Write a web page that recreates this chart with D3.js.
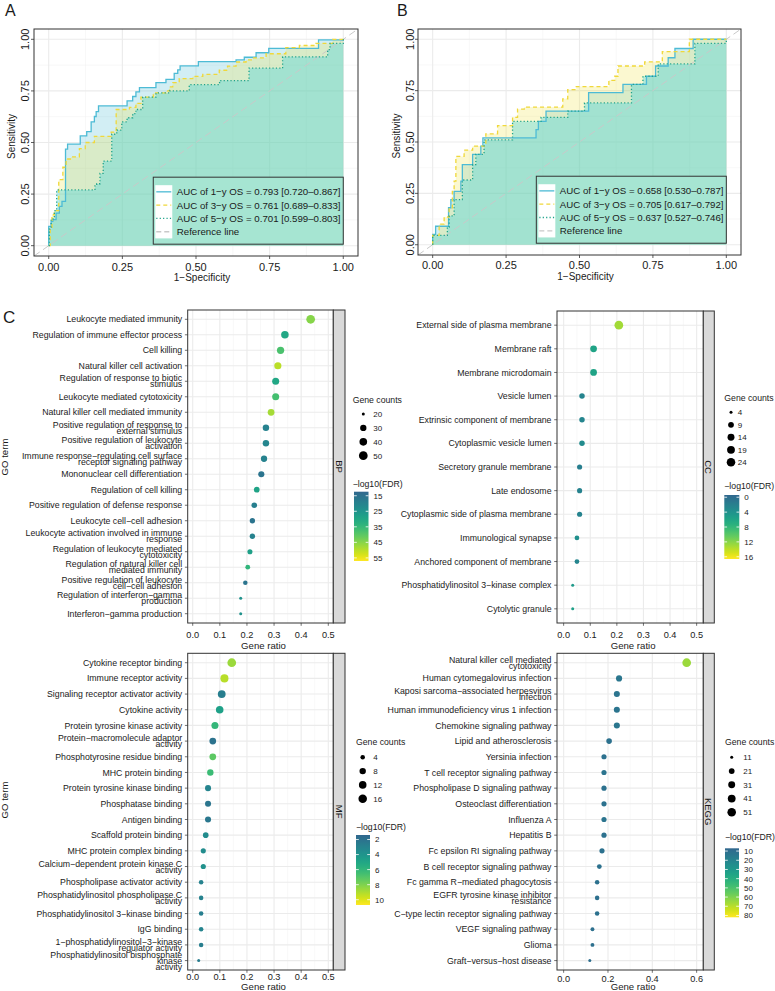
<!DOCTYPE html>
<html><head><meta charset="utf-8">
<script src="https://cdn.jsdelivr.net/npm/d3@7"></script>
<style>
body{margin:0;background:#fff}
svg{display:block}
text{font-family:"Liberation Sans",Arial,Helvetica,sans-serif;fill:#1a1a1a}
</style>
</head><body>
<svg id="c" width="775" height="991"></svg>
<script>
// ---------------- ROC data (FPR, TPR) ----------------
const rocTicks = [0, 0.25, 0.5, 0.75, 1];
const rocMinor = [0.125, 0.375, 0.625, 0.875];
const rocA_1y = [[0,0],[0,0.094],[0.008,0.118],[0.014,0.126],[0.025,0.158],[0.036,0.19],[0.045,0.215],[0.057,0.468],[0.064,0.492],[0.107,0.532],[0.129,0.553],[0.144,0.6],[0.155,0.626],[0.161,0.65],[0.169,0.677],[0.266,0.702],[0.285,0.723],[0.296,0.745],[0.308,0.766],[0.364,0.79],[0.398,0.806],[0.426,0.835],[0.438,0.852],[0.446,0.871],[0.508,0.892],[0.636,0.9],[0.664,0.913],[0.704,0.935],[0.747,0.956],[0.916,0.997],[1,1]];
const rocA_3y = [[0,0],[0.005,0.08],[0.011,0.15],[0.019,0.17],[0.034,0.32],[0.048,0.38],[0.059,0.42],[0.076,0.43],[0.104,0.47],[0.124,0.50],[0.155,0.53],[0.212,0.55],[0.229,0.66],[0.274,0.67],[0.296,0.69],[0.313,0.72],[0.355,0.74],[0.398,0.75],[0.41,0.77],[0.421,0.79],[0.443,0.81],[0.489,0.82],[0.523,0.83],[0.579,0.85],[0.607,0.87],[0.636,0.89],[0.67,0.90],[0.692,0.91],[0.738,0.93],[0.805,0.96],[0.851,0.97],[0.907,0.98],[0.964,1.0],[1,1]];
const rocA_5y = [[0,0],[0.002,0.08],[0.008,0.13],[0.019,0.17],[0.027,0.27],[0.157,0.29],[0.163,0.30],[0.174,0.35],[0.185,0.41],[0.214,0.54],[0.231,0.56],[0.248,0.60],[0.266,0.62],[0.285,0.64],[0.296,0.66],[0.319,0.72],[0.364,0.74],[0.41,0.75],[0.477,0.78],[0.58,0.80],[0.68,0.86],[0.794,0.915],[0.947,0.95],[0.955,0.98],[1,1]];
const rocB_1y = [[0,0],[0,0.05],[0.01,0.09],[0.054,0.18],[0.062,0.22],[0.073,0.26],[0.096,0.31],[0.101,0.39],[0.136,0.44],[0.164,0.48],[0.171,0.52],[0.352,0.56],[0.36,0.60],[0.386,0.65],[0.531,0.74],[0.648,0.78],[0.728,0.82],[0.759,0.87],[0.802,0.91],[0.825,0.955],[0.887,1.0],[1,1]];
const rocB_3y = [[0,0],[0,0.046],[0.022,0.10],[0.039,0.135],[0.056,0.18],[0.067,0.26],[0.073,0.31],[0.079,0.43],[0.107,0.46],[0.136,0.48],[0.181,0.54],[0.221,0.58],[0.272,0.62],[0.289,0.66],[0.312,0.67],[0.443,0.71],[0.46,0.755],[0.489,0.77],[0.6,0.80],[0.62,0.82],[0.631,0.87],[0.722,0.89],[0.782,0.94],[0.874,1.0],[1,1]];
const rocB_5y = [[0,0],[0,0.046],[0.05,0.086],[0.056,0.14],[0.073,0.22],[0.101,0.315],[0.136,0.39],[0.147,0.44],[0.175,0.51],[0.272,0.60],[0.369,0.62],[0.46,0.65],[0.517,0.69],[0.677,0.78],[0.716,0.82],[0.768,0.88],[0.893,0.98],[1,1]];
const aucA_labels = ["AUC of 1\u2212y OS = 0.793 [0.720\u20130.867]","AUC of 3\u2212y OS = 0.761 [0.689\u20130.833]","AUC of 5\u2212y OS = 0.701 [0.599\u20130.803]","Reference line"];
const aucB_labels = ["AUC of 1\u2212y OS = 0.658 [0.530\u20130.787]","AUC of 3\u2212y OS = 0.705 [0.617\u20130.792]","AUC of 5\u2212y OS = 0.637 [0.527\u20130.746]","Reference line"];

// ---------------- Enrichment data ----------------
const bpTerms = ["Leukocyte mediated immunity","Regulation of immune effector process","Cell killing","Natural killer cell activation","Regulation of response to biotic\nstimulus","Leukocyte mediated cytotoxicity","Natural killer cell mediated immunity","Positive regulation of response to\nexternal stimulus","Positive regulation of leukocyte\nactivation","Immune response\u2212regulating cell surface\nreceptor signaling pathway","Mononuclear cell differentiation","Regulation of cell killing","Positive regulation of defense response","Leukocyte cell\u2212cell adhesion","Leukocyte activation involved in immune\nresponse","Regulation of leukocyte mediated\ncytotoxicity","Regulation of natural killer cell\nmediated immunity","Positive regulation of leukocyte\ncell\u2212cell adhesion","Regulation of interferon\u2212gamma\nproduction","Interferon\u2212gamma production"];
const bpRatio = [0.435,0.340,0.324,0.314,0.306,0.306,0.289,0.270,0.270,0.263,0.253,0.236,0.227,0.220,0.220,0.211,0.203,0.194,0.177,0.177];
const bpCount = [50,39,37,36,35,35,33,31,31,30,29,27,26,25,25,24,23,22,20,20];
const bpFDR = [45,30,38,50,30,37,48,20,21,20,16,29,19,16,20,28,34,16,24,24];

const ccTerms = ["External side of plasma membrane","Membrane raft","Membrane microdomain","Vesicle lumen","Extrinsic component of membrane","Cytoplasmic vesicle lumen","Secretory granule membrane","Late endosome","Cytoplasmic side of plasma membrane","Immunological synapse","Anchored component of membrane","Phosphatidylinositol 3\u2212kinase complex","Cytolytic granule"];
const ccRatio = [0.2075,0.1125,0.1125,0.069,0.069,0.069,0.06,0.06,0.06,0.05,0.05,0.034,0.034];
const ccCount = [25,13,13,8,8,8,7,7,7,6,6,4,4];
const ccFDR = [13,5.8,5.8,2.5,2.6,3.2,1.8,2.2,2.4,3.7,2.6,4.8,5.4];

const mfTerms = ["Cytokine receptor binding","Immune receptor activity","Signaling receptor activator activity","Cytokine activity","Protein tyrosine kinase activity","Protein\u2212macromolecule adaptor\nactivity","Phosphotyrosine residue binding","MHC protein binding","Protein tyrosine kinase binding","Phosphatase binding","Antigen binding","Scaffold protein binding","MHC protein complex binding","Calcium\u2212dependent protein kinase C\nactivity","Phospholipase activator activity","Phosphatidylinositol phospholipase C\nactivity","Phosphatidylinositol 3\u2212kinase binding","IgG binding","1\u2212phosphatidylinositol\u22123\u2212kinase\nregulator activity","Phosphatidylinositol bisphosphate\nkinase\nactivity"];
const mfRatio = [0.144,0.117,0.107,0.0995,0.082,0.074,0.074,0.065,0.0565,0.0565,0.0565,0.048,0.039,0.039,0.031,0.031,0.031,0.031,0.031,0.022];
const mfCount = [17,14,13,12,10,9,9,8,7,7,7,6,5,5,4,4,4,4,4,3];
const mfFDR = [8.6,9.2,2.7,4.7,6.0,2.1,7.2,6.3,3.1,2.2,2.3,3.5,3.5,3.8,3.0,3.0,2.7,3.1,2.7,2.6];

const keggTerms = ["Natural killer cell mediated\ncytotoxicity","Human cytomegalovirus infection","Kaposi sarcoma\u2212associated herpesvirus\ninfection","Human immunodeficiency virus 1 infection","Chemokine signaling pathway","Lipid and atherosclerosis","Yersinia infection","T cell receptor signaling pathway","Phospholipase D signaling pathway","Osteoclast differentiation","Influenza A","Hepatitis B","Fc epsilon RI signaling pathway","B cell receptor signaling pathway","Fc gamma R\u2212mediated phagocytosis","EGFR tyrosine kinase inhibitor\nresistance","C\u2212type lectin receptor signaling pathway","VEGF signaling pathway","Glioma","Graft\u2212versus\u2212host disease"];
const keggRatio = [0.555,0.250,0.240,0.240,0.240,0.205,0.182,0.182,0.182,0.182,0.182,0.182,0.173,0.161,0.151,0.151,0.151,0.130,0.130,0.118];
const keggCount = [53,24,23,23,23,20,17,17,17,17,17,17,17,15,14,14,14,12,12,11];
const keggFDR = [65,14,13,13,14,12,12,13,12,12,13,12,12,12,12,11,12,11,11,10];

const goTicks = [0,0.1,0.2,0.3,0.4,0.5];
const goMinor = [0.05,0.15,0.25,0.35,0.45];
const keggTicks = [0,0.2,0.4,0.6];
const keggMinor = [0.1,0.3,0.5];
const bpSizeBreaks = [20,30,40,50], bpColBreaks = [15,25,35,45,55];
const ccSizeBreaks = [4,9,14,19,24], ccColBreaks = [0,4,8,12,16];
const mfSizeBreaks = [4,8,12,16], mfColBreaks = [2,4,6,8,10];
const keggSizeBreaks = [11,21,31,41,51], keggColBreaks = [10,20,30,40,50,60,70,80];

// ---------------- drawing ----------------
const svg = d3.select("#c");
const defs = svg.append("defs");
let uid = 0;
const DARK = "#333333", GRID = "#EBEBEB", GRIDMIN = "#F4F4F4";

function drawROC(L, curves, labels) {
  const x = d3.scaleLinear().domain([-0.05, 1.05]).range([L.l, L.r]);
  const y = d3.scaleLinear().domain([-0.05, 1.05]).range([L.b, L.t]);
  const g = svg.append("g");
  const cid = "clip" + (uid++);
  defs.append("clipPath").attr("id", cid).append("rect")
    .attr("x", L.l).attr("y", L.t).attr("width", L.r - L.l).attr("height", L.b - L.t);
  g.append("rect").attr("x", L.l).attr("y", L.t).attr("width", L.r - L.l).attr("height", L.b - L.t).attr("fill", "#fff");
  g.selectAll(".mx").data(rocMinor).join("line").attr("x1", d => x(d)).attr("x2", d => x(d)).attr("y1", L.t).attr("y2", L.b).attr("stroke", GRIDMIN).attr("stroke-width", 0.6);
  g.selectAll(".my").data(rocMinor).join("line").attr("y1", d => y(d)).attr("y2", d => y(d)).attr("x1", L.l).attr("x2", L.r).attr("stroke", GRIDMIN).attr("stroke-width", 0.6);
  g.selectAll(".gx").data(rocTicks).join("line").attr("x1", d => x(d)).attr("x2", d => x(d)).attr("y1", L.t).attr("y2", L.b).attr("stroke", GRID).attr("stroke-width", 1.1);
  g.selectAll(".gy").data(rocTicks).join("line").attr("y1", d => y(d)).attr("y2", d => y(d)).attr("x1", L.l).attr("x2", L.r).attr("stroke", GRID).attr("stroke-width", 1.1);

  const pg = g.append("g").attr("clip-path", `url(#${cid})`);
  const fills = ["#4DBBD5", "#F0E442", "#40D2DE"], alphas = [0.25, 0.25, 0.36];
  const strokes = ["#4DBBD5", "#F0D83A", "#1FA38A"], dashes = [null, "4,3", "1.2,2.2"];
  const area = d3.area().x(d => x(d[0])).y0(y(0)).y1(d => y(d[1])).curve(d3.curveStepAfter);
  const line = d3.line().x(d => x(d[0])).y(d => y(d[1])).curve(d3.curveStepAfter);
  curves.forEach((c, i) => pg.append("path").attr("d", area(c)).attr("fill", fills[i]).attr("fill-opacity", alphas[i]));
  pg.append("line").attr("x1", x(-0.05)).attr("y1", y(-0.05)).attr("x2", x(1.05)).attr("y2", y(1.05))
    .attr("stroke", "#C9C9C9").attr("stroke-width", 1).attr("stroke-dasharray", "7,4");
  curves.forEach((c, i) => pg.append("path").attr("d", line(c)).attr("fill", "none").attr("stroke", strokes[i])
    .attr("stroke-width", 1.3).attr("stroke-dasharray", dashes[i]));
  g.append("rect").attr("x", L.l).attr("y", L.t).attr("width", L.r - L.l).attr("height", L.b - L.t).attr("fill", "none").attr("stroke", DARK).attr("stroke-width", 1);

  // axes
  g.selectAll(".tx").data(rocTicks).join("line").attr("x1", d => x(d)).attr("x2", d => x(d)).attr("y1", L.b).attr("y2", L.b + 3).attr("stroke", DARK).attr("stroke-width", 0.8);
  g.selectAll(".ty").data(rocTicks).join("line").attr("y1", d => y(d)).attr("y2", d => y(d)).attr("x1", L.l - 3).attr("x2", L.l).attr("stroke", DARK).attr("stroke-width", 0.8);
  const f = d3.format(".2f");
  g.selectAll(".lx").data(rocTicks).join("text").attr("x", d => x(d)).attr("y", L.tickY).attr("text-anchor", "middle").attr("font-size", 11).text(f);
  g.selectAll(".ly").data(rocTicks).join("text").attr("transform", d => `translate(${L.ytickX},${y(d)}) rotate(-90)`)
    .attr("dy", "0.35em").attr("text-anchor", "middle").attr("font-size", 11).text(f);
  g.append("text").attr("x", (L.l + L.r) / 2 + 6).attr("y", L.titleY).attr("text-anchor", "middle").attr("font-size", 10).text("1\u2212Specificity");
  g.append("text").attr("transform", `translate(${L.ytitleX},${(L.t + L.b) / 2 - 6}) rotate(-90)`).attr("dy", "0.35em")
    .attr("text-anchor", "middle").attr("font-size", 10).text("Sensitivity");

  // legend
  const bw = 190, bh = 67;
  const bx = x(1) - bw, by = y(0) - 1.5 - bh;
  const lg = g.append("g");
  lg.append("rect").attr("x", bx).attr("y", by).attr("width", bw).attr("height", bh).attr("fill", "#A6E5D2").attr("stroke", DARK).attr("stroke-width", 1);
  const kh = 13.3, ky0 = by + 8;
  lg.append("rect").attr("x", bx + 2).attr("y", ky0).attr("width", 17).attr("height", kh * 4).attr("fill", "#fff");
  const kStroke = strokes.concat(["#C9C9C9"]), kDash = dashes.concat(["5,3"]);
  labels.forEach((t, i) => {
    const cy = ky0 + kh * i + kh / 2;
    lg.append("line").attr("x1", bx + 3).attr("x2", bx + 18).attr("y1", cy).attr("y2", cy)
      .attr("stroke", kStroke[i]).attr("stroke-width", 1.3).attr("stroke-dasharray", kDash[i]);
    lg.append("text").attr("x", bx + 23.5).attr("y", cy + 3.4).attr("font-size", 9.7).text(t);
  });
}

function drawDot(c) {
  const P = c.P;
  const x = d3.scaleLinear().domain(c.xdom).range([P.l, P.r]);
  const n = c.terms.length;
  const y = d3.scalePoint().domain(d3.range(n)).range([P.t, P.b]).padding(0.6);
  const col = d3.scaleSequential(t => d3.interpolateViridis(0.33 + 0.67 * t)).domain(c.cdom);
  const ext = d3.extent(c.count);
  const st = d3.scaleLinear().domain(ext).range([0, 1]).clamp(true);
  const rad = v => 0.93 + 0.57 * (1 + 5 * Math.sqrt(st(v)));
  const g = svg.append("g");
  g.append("rect").attr("x", P.l).attr("y", P.t).attr("width", P.r - P.l).attr("height", P.b - P.t).attr("fill", "#fff");
  g.selectAll(".m").data(c.xminor).join("line").attr("x1", d => x(d)).attr("x2", d => x(d)).attr("y1", P.t).attr("y2", P.b).attr("stroke", GRIDMIN).attr("stroke-width", 0.6);
  g.selectAll(".gx").data(c.xticks).join("line").attr("x1", d => x(d)).attr("x2", d => x(d)).attr("y1", P.t).attr("y2", P.b).attr("stroke", GRID).attr("stroke-width", 1.1);
  g.selectAll(".gy").data(d3.range(n)).join("line").attr("y1", d => y(d)).attr("y2", d => y(d)).attr("x1", P.l).attr("x2", P.r).attr("stroke", GRID).attr("stroke-width", 1.1);
  g.selectAll(".pt").data(d3.range(n)).join("circle").attr("cx", i => x(c.ratio[i])).attr("cy", i => y(i))
    .attr("r", i => rad(c.count[i])).attr("fill", i => col(c.fdr[i]));
  g.append("rect").attr("x", P.l).attr("y", P.t).attr("width", P.r - P.l).attr("height", P.b - P.t).attr("fill", "none").attr("stroke", DARK).attr("stroke-width", 1);
  // strip
  g.append("rect").attr("x", P.r).attr("y", P.t).attr("width", c.stripR - P.r).attr("height", P.b - P.t).attr("fill", "#D9D9D9").attr("stroke", DARK).attr("stroke-width", 1);
  g.append("text").attr("transform", `translate(${(P.r + c.stripR) / 2},${(P.t + P.b) / 2}) rotate(90)`).attr("dy", "0.35em")
    .attr("text-anchor", "middle").attr("font-size", 9.5).text(c.strip);
  // y axis
  g.selectAll(".ty").data(d3.range(n)).join("line").attr("y1", d => y(d)).attr("y2", d => y(d)).attr("x1", P.l - 2.8).attr("x2", P.l).attr("stroke", DARK).attr("stroke-width", 0.7);
  c.terms.forEach((t, i) => {
    const lines = t.split("\n");
    const tx = g.append("text").attr("text-anchor", "end").attr("font-size", 8.75);
    lines.forEach((s, k) => tx.append("tspan").attr("x", P.l - 5.5).attr("y", y(i) + (k - (lines.length - 1) / 2) * 6 + 3.1).text(s));
  });
  // x axis
  g.selectAll(".tx").data(c.xticks).join("line").attr("x1", d => x(d)).attr("x2", d => x(d)).attr("y1", P.b).attr("y2", P.b + 2.8).attr("stroke", DARK).attr("stroke-width", 0.7);
  g.selectAll(".lx").data(c.xticks).join("text").attr("x", d => x(d)).attr("y", c.tickY).attr("text-anchor", "middle").attr("font-size", 9.2).text(d3.format(".1f"));
  g.append("text").attr("x", (P.l + P.r) / 2 + 3).attr("y", c.titleY).attr("text-anchor", "middle").attr("font-size", 9.6).text("Gene ratio");
  if (c.ytitle) {
    g.append("text").attr("transform", `translate(5,${c.ytitle}) rotate(-90)`).attr("dy", "0.35em").attr("text-anchor", "middle").attr("font-size", 9.6).text("GO term");
  }
  // size legend
  const L = c.leg;
  g.append("text").attr("x", L.x).attr("y", L.sTitle + 3).attr("font-size", 8.7).text("Gene counts");
  c.sizeBreaks.forEach((v, i) => {
    const cy = L.s0 + i * L.sStep;
    g.append("circle").attr("cx", L.dotX).attr("cy", cy).attr("r", rad(v)).attr("fill", "#000");
    g.append("text").attr("x", L.labX).attr("y", cy + 2.9).attr("font-size", 8).text(v);
  });
  // colour legend
  g.append("text").attr("x", L.x).attr("y", L.cTitle + 3).attr("font-size", 8.7).text("\u2212log10(FDR)");
  const gid = "grad" + (uid++);
  const grad = defs.append("linearGradient").attr("id", gid).attr("x1", 0).attr("x2", 0).attr("y1", 0).attr("y2", 1);
  d3.range(0, 1.0001, 0.05).forEach(t => grad.append("stop").attr("offset", t).attr("stop-color", col(c.cdom[0] + t * (c.cdom[1] - c.cdom[0]))));
  g.append("rect").attr("x", L.barX).attr("y", L.barT).attr("width", L.barW).attr("height", L.barB - L.barT).attr("fill", `url(#${gid})`);
  const by = d3.scaleLinear().domain(c.cdom).range([L.barT, L.barB]);
  c.colBreaks.forEach(v => {
    const yy = by(v);
    g.append("line").attr("x1", L.barX).attr("x2", L.barX + 2.8).attr("y1", yy).attr("y2", yy).attr("stroke", "#fff").attr("stroke-width", 0.8);
    g.append("line").attr("x1", L.barX + L.barW - 2.8).attr("x2", L.barX + L.barW).attr("y1", yy).attr("y2", yy).attr("stroke", "#fff").attr("stroke-width", 0.8);
    g.append("text").attr("x", L.barX + L.barW + 5).attr("y", yy + 2.9).attr("font-size", 8).text(v);
  });
}

drawROC({l: 34, t: 29, r: 358, b: 256, tickY: 270.5, titleY: 281, ytickX: 25, ytitleX: 11.7}, [rocA_1y, rocA_3y, rocA_5y], aucA_labels);
drawROC({l: 418, t: 29, r: 741, b: 255, tickY: 269, titleY: 279.5, ytickX: 410, ytitleX: 396.7}, [rocB_1y, rocB_3y, rocB_5y], aucB_labels);

drawDot({terms: bpTerms, ratio: bpRatio, count: bpCount, fdr: bpFDR, strip: "BP",
  P: {l: 187.7, t: 310, r: 333.3, b: 623}, stripR: 345, xdom: [-0.0185, 0.5185], xticks: goTicks, xminor: goMinor,
  cdom: [12.4, 57], tickY: 638.3, titleY: 648.5, ytitle: 457, sizeBreaks: bpSizeBreaks, colBreaks: bpColBreaks,
  leg: {x: 352.7, sTitle: 400, s0: 414, sStep: 13.9, dotX: 363.3, labX: 373.3, cTitle: 484, barX: 354, barW: 14.5, barT: 491.7, barB: 561}});
drawDot({terms: ccTerms, ratio: ccRatio, count: ccCount, fdr: ccFDR, strip: "CC",
  P: {l: 557, t: 311, r: 703.3, b: 623}, stripR: 714.3, xdom: [-0.025, 0.525], xticks: goTicks, xminor: goMinor,
  cdom: [-0.6, 16.6], tickY: 638.3, titleY: 648.5, ytitle: null, sizeBreaks: ccSizeBreaks, colBreaks: ccColBreaks,
  leg: {x: 724.3, sTitle: 398.3, s0: 412.3, sStep: 12.5, dotX: 731, labX: 737.7, cTitle: 486, barX: 724.3, barW: 15, barT: 495, barB: 559}});
drawDot({terms: mfTerms, ratio: mfRatio, count: mfCount, fdr: mfFDR, strip: "MF",
  P: {l: 187.7, t: 653.3, r: 333.3, b: 970}, stripR: 345, xdom: [-0.0185, 0.5185], xticks: goTicks, xminor: goMinor,
  cdom: [1.4, 10.7], tickY: 980.4, titleY: 990, ytitle: 800, sizeBreaks: mfSizeBreaks, colBreaks: mfColBreaks,
  leg: {x: 356, sTitle: 742.3, s0: 757.3, sStep: 13.8, dotX: 362.7, labX: 373.3, cTitle: 827.3, barX: 356, barW: 14, barT: 835, barB: 905}});
drawDot({terms: keggTerms, ratio: keggRatio, count: keggCount, fdr: keggFDR, strip: "KEGG",
  P: {l: 557, t: 653.3, r: 703.3, b: 970}, stripR: 714.3, xdom: [-0.03, 0.63], xticks: keggTicks, xminor: keggMinor,
  cdom: [7, 82], tickY: 981.5, titleY: 990, ytitle: null, sizeBreaks: keggSizeBreaks, colBreaks: keggColBreaks,
  leg: {x: 725, sTitle: 741.7, s0: 757.3, sStep: 13.75, dotX: 731.7, labX: 743.3, cTitle: 836.7, barX: 725, barW: 14, barT: 848.3, barB: 917.3}});

// panel letters
svg.append("text").attr("x", 5).attr("y", 15.5).attr("font-size", 16).text("A");
svg.append("text").attr("x", 397).attr("y", 15.5).attr("font-size", 16).text("B");
svg.append("text").attr("x", 3).attr("y", 323).attr("font-size", 17).text("C");
</script>
</body></html>
